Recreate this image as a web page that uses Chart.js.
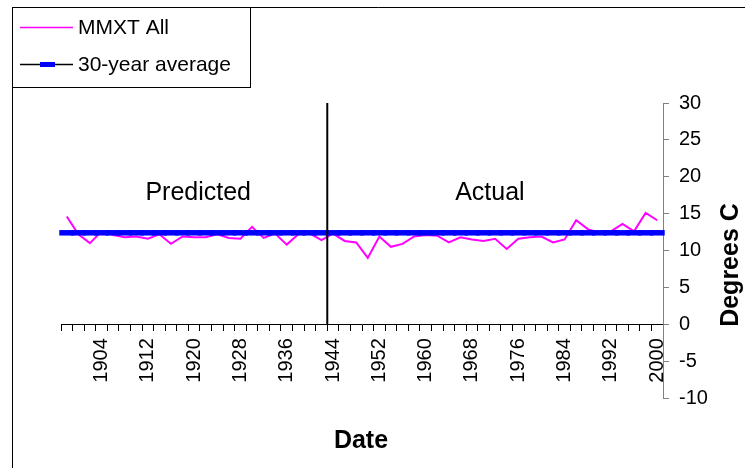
<!DOCTYPE html>
<html>
<head>
<meta charset="utf-8">
<script src="https://cdn.jsdelivr.net/npm/chart.js@4/dist/chart.umd.min.js"></script>
<style>
  html, body { margin: 0; padding: 0; background: #fff; }
  #wrap { position: relative; width: 745px; height: 468px; }
</style>
</head>
<body>
<div id="wrap"><canvas id="chart"></canvas></div>
<script>
// MMXT, one value every second year
const years = [
  1898, 1900, 1902, 1904, 1906, 1908, 1910, 1912, 1914, 1916, 1918, 1920, 1922,
  1924, 1926, 1928, 1930, 1932, 1934, 1936, 1938, 1940, 1942, 1944, 1946, 1948,
  1950, 1952, 1954, 1956, 1958, 1960, 1962, 1964, 1966, 1968, 1970, 1972, 1974,
  1976, 1978, 1980, 1982, 1984, 1986, 1988, 1990, 1992, 1994, 1996, 1998, 2000
]
const mmxtAll = [
  14.6, 12.2, 11.0, 12.6, 12.1, 11.8, 11.9, 11.6, 12.2, 10.9, 11.9, 11.8, 11.8,
  12.2, 11.7, 11.6, 13.2, 11.7, 12.3, 10.8, 12.2, 12.3, 11.4, 12.3, 11.3, 11.1,
  9.0, 11.9, 10.5, 10.9, 11.9, 12.1, 12.0, 11.1, 11.8, 11.5, 11.3, 11.6, 10.2,
  11.6, 11.8, 11.9, 11.1, 11.5, 14.1, 12.9, 12.4, 12.6, 13.6, 12.6, 15.1, 14.1
]
const thirtyYearAverage = 12.4
const splitYear = 1943          // predicted | actual boundary
const xLabelYears = [1904, 1912, 1920, 1928, 1936, 1944, 1952, 1960, 1968, 1976, 1984, 1992, 2000]
const yTicks = [-10, -5, 0, 5, 10, 15, 20, 25, 30]

const FONT = '"Liberation Sans", Arial, sans-serif'
const MAGENTA = '#ff00ff'
const BLUE = '#0000ff'

// one tick per year; only odd years get a visible tick mark
const tickYears = []
for (let yr = 1897; yr <= 2001; yr++) tickYears.push(yr)

const decorations = {
  id: 'decorations',
  afterDraw (chart) {
    const { ctx, scales: { x, y } } = chart
    ctx.save()

    // frame edges
    ctx.strokeStyle = '#000'
    ctx.lineWidth = 1
    ctx.beginPath()
    ctx.moveTo(12.5, 468)
    ctx.lineTo(12.5, 7.5)
    ctx.lineTo(745, 7.5)
    ctx.stroke()

    // legend
    ctx.strokeRect(12.5, 7.5, 238, 80)
    ctx.font = '21px ' + FONT
    ctx.fillStyle = '#000'
    ctx.textAlign = 'left'
    ctx.textBaseline = 'middle'

    ctx.strokeStyle = MAGENTA
    ctx.lineWidth = 1.5
    ctx.beginPath(); ctx.moveTo(20, 27.5); ctx.lineTo(73, 27.5); ctx.stroke()
    ctx.fillText('MMXT All', 78, 28)

    ctx.strokeStyle = '#000'
    ctx.beginPath(); ctx.moveTo(20, 64.5); ctx.lineTo(73, 64.5); ctx.stroke()
    ctx.fillStyle = BLUE
    ctx.fillRect(40, 62, 15, 5)
    ctx.fillStyle = '#000'
    ctx.fillText('30-year average', 78, 65)

    // period labels
    ctx.font = '25px ' + FONT
    ctx.textAlign = 'center'
    ctx.textBaseline = 'alphabetic'
    ctx.fillText('Predicted', x.getPixelForValue(1920.7), y.getPixelForValue(16.9))
    ctx.fillText('Actual', x.getPixelForValue(1971.1), y.getPixelForValue(16.9))

    // axis titles
    ctx.font = 'bold 25px ' + FONT
    ctx.fillText('Date', 361, 448)
    ctx.translate(738, 265)
    ctx.rotate(-Math.PI / 2)
    ctx.fillText('Degrees C', 0, 0)

    ctx.restore()
  }
}

new Chart(document.getElementById('chart'), {
  type: 'line',
  data: {
    datasets: [
      {
        label: 'split',
        data: [{ x: splitYear, y: 0 }, { x: splitYear, y: 30 }],
        borderColor: '#000',
        borderWidth: 2,
        pointRadius: 0
      },
      {
        label: '30-year average',
        data: years.map(yr => ({ x: yr, y: thirtyYearAverage })),
        borderColor: '#000',
        borderWidth: 1,
        pointStyle: 'line',
        pointRadius: 7.5,
        pointBorderColor: BLUE,
        pointBorderWidth: 5.5,
        clip: false
      },
      {
        label: 'MMXT All',
        data: years.map((yr, i) => ({ x: yr, y: mmxtAll[i] })),
        borderColor: MAGENTA,
        borderWidth: 2,
        pointRadius: 0,
        tension: 0,
        clip: false
      }
    ]
  },
  options: {
    responsive: true,
    maintainAspectRatio: false,
    animation: false,
    events: [],
    layout: { padding: { left: 61, top: 103, bottom: 70, right: 0 } },
    plugins: { legend: { display: false }, tooltip: { enabled: false } },
    scales: {
      x: {
        type: 'linear',
        position: { y: 0 },
        min: 1897,
        max: 2001,
        afterBuildTicks: s => { s.ticks = tickYears.map(v => ({ value: v })) },
        grid: {
          drawOnChartArea: false,
          tickLength: 6,
          tickColor: c => (c.tick && c.tick.value % 2 !== 0) ? '#000' : 'rgba(0,0,0,0)'
        },
        border: { color: '#000' },
        ticks: {
          autoSkip: false,
          minRotation: 90,
          maxRotation: 90,
          padding: 8,
          color: '#000',
          font: { family: FONT, size: 20 },
          callback: v => xLabelYears.includes(v) ? String(v) : ''
        }
      },
      y: {
        position: 'right',
        min: -10,
        max: 30,
        afterBuildTicks: s => { s.ticks = yTicks.map(v => ({ value: v })) },
        afterFit: s => { s.width = 82 },
        grid: { drawOnChartArea: false, tickLength: 6, tickColor: '#808080' },
        border: { color: '#808080' },
        ticks: { padding: 10, color: '#000', font: { family: FONT, size: 20 } }
      }
    }
  },
  plugins: [decorations]
})
</script>
</body>
</html>
